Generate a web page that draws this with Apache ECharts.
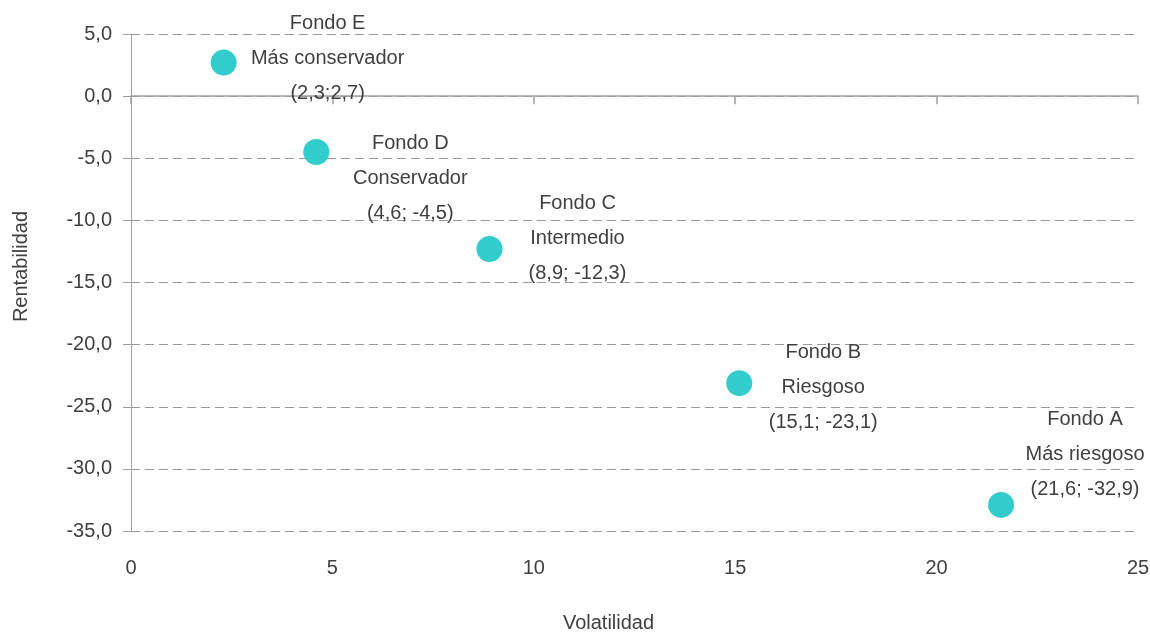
<!DOCTYPE html>
<html>
<head>
<meta charset="utf-8">
<script src="https://cdn.jsdelivr.net/npm/echarts@6/dist/echarts.min.js"></script>
<style>
  html, body { margin: 0; padding: 0; background: #fff; }
  #chart { width: 1150px; height: 633px; }
</style>
</head>
<body>
<div id="chart"></div>
<script>
// datos de los fondos
const fondos = ['Fondo E', 'Fondo D', 'Fondo C', 'Fondo B', 'Fondo A']
const perfiles = ['Más conservador', 'Conservador', 'Intermedio', 'Riesgoso', 'Más riesgoso']
const volatilidad = [2.3, 4.6, 8.9, 15.1, 21.6]
const rentabilidad = [2.7, -4.5, -12.3, -23.1, -32.9]
const etiquetasPar = ['(2,3;2,7)', '(4,6; -4,5)', '(8,9; -12,3)', '(15,1; -23,1)', '(21,6; -32,9)']

// desplazamiento de cada etiqueta respecto del punto
const labelOffsets = [[104, -4], [94, 26], [88, -10], [84, 4], [84, -50]]

const textColor = '#404040'
const font = 'Liberation Sans, Arial, sans-serif'

const chart = echarts.init(document.getElementById('chart'))

const puntos = volatilidad.map((v, i) => ({
  value: [v, rentabilidad[i]],
  name: fondos[i],
  label: {
    offset: labelOffsets[i],
    formatter: () => [fondos[i], perfiles[i], etiquetasPar[i]].join('\n')
  }
}))

chart.setOption({
  animation: false,
  grid: { left: 131, right: 12, top: 34, bottom: 102, outerBoundsMode: 'none' },
  xAxis: [
    {
      type: 'value',
      min: 0,
      max: 25,
      interval: 5,
      position: 'bottom',
      axisLine: { show: false, onZero: false },
      axisTick: { show: false },
      splitLine: { show: false },
      axisLabel: { margin: 27, color: textColor, fontSize: 20, fontFamily: font },
      name: 'Volatilidad',
      nameLocation: 'middle',
      nameGap: 82,
      nameTextStyle: { color: textColor, fontSize: 20, fontFamily: font, padding: [0, 52, 0, 0] }
    },
    {
      type: 'value',
      min: 0,
      max: 25,
      interval: 5,
      position: 'bottom',
      axisLine: { show: true, onZero: true, lineStyle: { color: '#a0a0a0', width: 1.5 } },
      axisTick: { show: true, inside: false, length: 8, lineStyle: { color: '#a0a0a0', width: 1.5 } },
      splitLine: { show: false },
      axisLabel: { show: false }
    }
  ],
  yAxis: {
    type: 'value',
    min: -35,
    max: 5,
    interval: 5,
    axisLine: { show: true, onZero: false, lineStyle: { color: '#a0a0a0', width: 1 } },
    axisTick: { show: true, length: 8, lineStyle: { color: '#a0a0a0' } },
    splitLine: { show: true, lineStyle: { color: '#999', type: [9, 5], width: 1 } },
    axisLabel: {
      margin: 19,
      color: textColor,
      fontSize: 20,
      fontFamily: font,
      formatter: v => v.toFixed(1).replace('.', ',')
    },
    name: 'Rentabilidad',
    nameLocation: 'middle',
    nameGap: 100,
    nameTextStyle: { color: textColor, fontSize: 20, fontFamily: font, padding: [0, 0, 0, 32] }
  },
  series: [
    {
      type: 'scatter',
      xAxisIndex: 0,
      symbol: 'circle',
      symbolSize: 26,
      itemStyle: { color: '#33CCCC', opacity: 1 },
      label: {
        show: true,
        position: 'inside',
        align: 'center',
        verticalAlign: 'middle',
        color: textColor,
        fontSize: 20,
        fontFamily: font,
        lineHeight: 35
      },
      data: puntos
    }
  ]
})

window.addEventListener('resize', () => chart.resize())
</script>
</body>
</html>
